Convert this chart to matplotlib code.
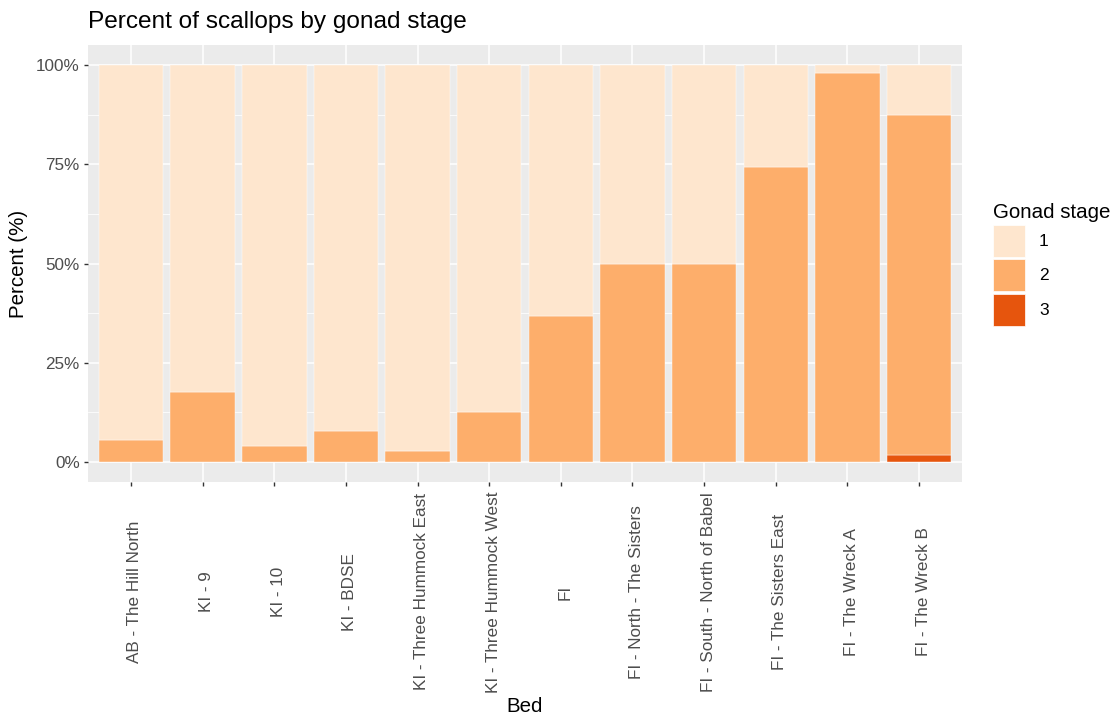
import matplotlib.pyplot as plt
from matplotlib.patches import Patch
from matplotlib.ticker import FixedLocator, FuncFormatter
from matplotlib.transforms import ScaledTranslation

plt.rcParams["font.family"] = ["Liberation Sans", "DejaVu Sans"]

beds = [
    "AB - The Hill North",
    "KI - 9",
    "KI - 10",
    "KI - BDSE",
    "KI - Three Hummock East",
    "KI - Three Hummock West",
    "FI",
    "FI - North - The Sisters",
    "FI - South - North of Babel",
    "FI - The Sisters East",
    "FI - The Wreck A",
    "FI - The Wreck B",
]
stage3 = [0, 0, 0, 0, 0, 0, 0, 0, 0, 0, 0, 1.9]
stage2 = [5.5, 17.7, 4.0, 7.9, 2.8, 12.5, 36.8, 50.0, 50.0, 74.4, 97.9, 85.5]
stage1 = [100 - a - b for a, b in zip(stage2, stage3)]

colors = {"1": "#FEE6CE", "2": "#FDAE6B", "3": "#E6550D"}
grey_txt = "#4D4D4D"

fig = plt.figure(figsize=(11.17, 7.16), dpi=100)
ax = fig.add_axes([88 / 1117, 1 - 482 / 716, 874 / 1117, 437 / 716])
ax.set_facecolor("#EBEBEB")

x = list(range(len(beds)))
w = 0.9
bottom2 = stage3
bottom1 = [a + b for a, b in zip(stage2, stage3)]
ax.bar(x, stage3, w, color=colors["3"], edgecolor="white", linewidth=0.3, zorder=3)
ax.bar(x, stage2, w, bottom=bottom2, color=colors["2"], edgecolor="white", linewidth=0.3, zorder=3)
ax.bar(x, stage1, w, bottom=bottom1, color=colors["1"], edgecolor="white", linewidth=0.3, zorder=3)

ax.set_xlim(-0.6, len(beds) - 0.4)
ax.set_ylim(-5, 105)
ax.yaxis.set_major_locator(FixedLocator([0, 25, 50, 75, 100]))
ax.yaxis.set_minor_locator(FixedLocator([12.5, 37.5, 62.5, 87.5]))
ax.yaxis.set_major_formatter(FuncFormatter(lambda v, p: f"{v:.0f}%"))
ax.set_xticks(x)
ax.set_xticklabels(beds, rotation=90, ha="center", va="center")

ax.grid(which="major", color="white", linewidth=1.1, zorder=0)
ax.grid(which="minor", axis="y", color="white", linewidth=0.55, zorder=0)
ax.set_axisbelow(True)
for s in ax.spines.values():
    s.set_visible(False)
ax.tick_params(which="major", length=3, width=1, color="#333333",
               labelsize=12.3, labelcolor=grey_txt)
ax.tick_params(axis="y", pad=3)
# labels are centred in the space below the panel, as in ggplot
ax.tick_params(axis="x", pad=110 * 0.72 - 3)
shift = ScaledTranslation(4 / 100, 0, fig.dpi_scale_trans)
for lab in ax.get_xticklabels():
    lab.set_transform(lab.get_transform() + shift)
ax.tick_params(which="minor", length=0)

ax.set_xlabel("Bed", fontsize=14.8)
ax.xaxis.set_label_coords(0.5, -(706 - 482) / 437)
ax.set_ylabel("Percent (%)", fontsize=14.8)
ax.yaxis.set_label_coords(-(88 - 19) / 874, 0.5)
ax.xaxis.label.set_va("center")
ax.yaxis.label.set_va("center")
fig.text(88 / 1117, 1 - 22 / 716, "Percent of scallops by gonad stage",
         fontsize=17.6, va="center", ha="left")

fs = 12.5
fs_px = fs * 100 / 72
handles = [Patch(facecolor=colors[k], edgecolor="white", linewidth=0.5) for k in ["1", "2", "3"]]
leg = fig.legend(handles, ["1", "2", "3"], title="Gonad stage",
                 loc="upper left", bbox_to_anchor=(993 / 1117, 1 - 203 / 716),
                 frameon=False, fontsize=fs, title_fontsize=14.8,
                 handlelength=32 / fs_px, handleheight=2.45, labelspacing=0.15,
                 handletextpad=0.8, borderaxespad=0, borderpad=0)
leg._legend_box.align = "left"

fig.savefig("out.png", dpi=100)
